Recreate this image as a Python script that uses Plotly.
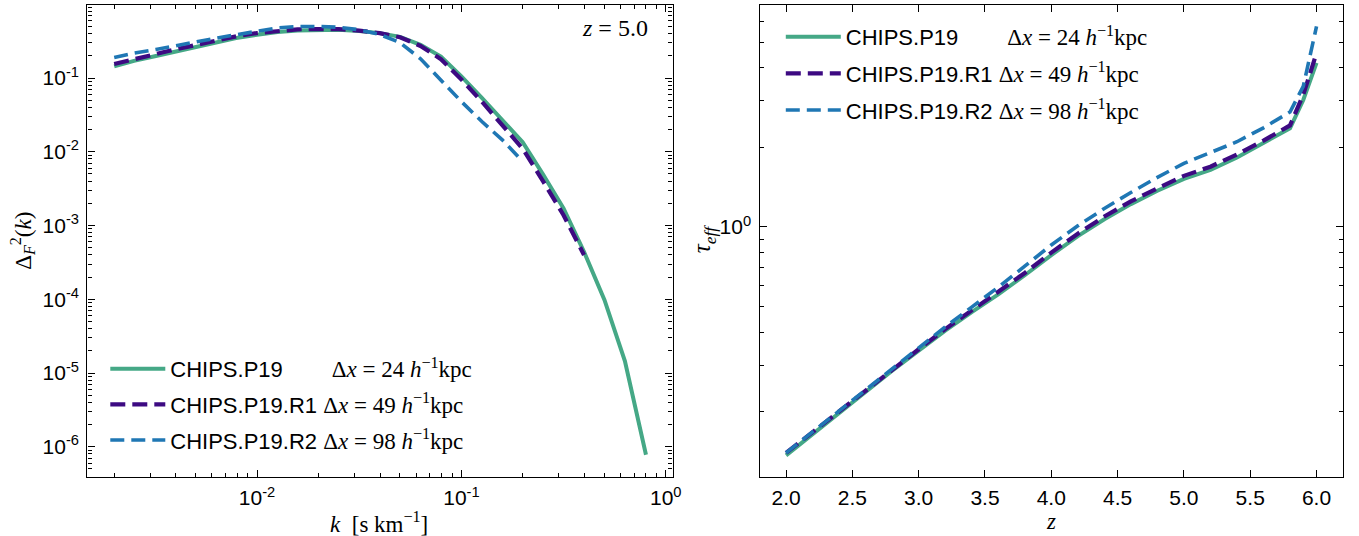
import plotly.graph_objects as go

# ---------------- data: left panel (flux power spectrum at z = 5.0) ----------------
k_vals = [0.0020, 0.0025, 0.0032, 0.0040, 0.0050, 0.0063, 0.0079, 0.0100, 0.0126,
          0.0158, 0.0200, 0.0251, 0.0316, 0.0398, 0.0501, 0.0631, 0.0794, 0.1000,
          0.1259, 0.1585, 0.1995, 0.2512, 0.3162, 0.3981, 0.5012, 0.6310, 0.8000]

pk_p19 = [0.144, 0.171, 0.199, 0.229, 0.265, 0.305, 0.348, 0.385, 0.420, 0.442, 0.452,
          0.452, 0.435, 0.406, 0.361, 0.282, 0.195, 0.105, 0.0537, 0.0275, 0.0135,
          0.0049, 0.0017, 4.4e-4, 9.8e-5, 1.45e-5, 7.8e-7]

pk_r1 = [0.155, 0.182, 0.211, 0.245, 0.282, 0.324, 0.367, 0.407, 0.437, 0.457, 0.462,
         0.460, 0.440, 0.406, 0.357, 0.272, 0.180, 0.0955, 0.0479, 0.0234, 0.0110,
         0.00398, 0.00138, 3.98e-4, None, None, None]

pk_r2 = [0.190, 0.218, 0.244, 0.276, 0.310, 0.347, 0.386, 0.432, 0.479, 0.499, 0.501,
         0.488, 0.452, 0.389, 0.302, 0.182, 0.0933, 0.0479, 0.0257, 0.0145, 0.0074,
         None, None, None, None, None, None]

# ---------------- data: right panel (effective optical depth) ----------------
z_vals = [2.0, 2.2, 2.4, 2.6, 2.8, 3.0, 3.2, 3.4, 3.6, 3.8, 4.0, 4.2, 4.4, 4.6, 4.8,
          5.0, 5.2, 5.4, 5.6, 5.8, 5.9, 6.0]

tau_p19 = [0.137, 0.165, 0.199, 0.239, 0.286, 0.341, 0.406, 0.477, 0.556, 0.657, 0.783,
           0.923, 1.07, 1.22, 1.37, 1.52, 1.645, 1.83, 2.07, 2.36, 3.02, 4.17]

tau_r1 = [0.140, 0.168, 0.202, 0.242, 0.290, 0.345, 0.411, 0.484, 0.566, 0.670, 0.800,
          0.943, 1.095, 1.25, 1.40, 1.56, 1.69, 1.88, 2.12, 2.42, 3.16, 4.54]

tau_r2 = [0.140, 0.168, 0.202, 0.244, 0.293, 0.351, 0.419, 0.498, 0.592, 0.711, 0.855,
          1.01, 1.175, 1.35, 1.54, 1.74, 1.905, 2.10, 2.37, 2.72, 3.40, 5.73]

# ---------------- labels ----------------
run_names = ["CHIPS.P19", "CHIPS.P19.R1", "CHIPS.P19.R2"]
resolutions = ["24", "49", "98"]
pads = [8, 1, 1]
colors = ["#45a886", "#3d0a82", "#1f77b4"]
dashes = ["solid", "15px,7px", "14px,7px"]
widths = [4, 4.2, 3.6]

left_ticks = [1e-6, 1e-5, 1e-4, 1e-3, 1e-2, 1e-1]
left_ticktext = ["10<sup>-6</sup>", "10<sup>-5</sup>", "10<sup>-4</sup>",
                 "10<sup>-3</sup>", "10<sup>-2</sup>", "10<sup>-1</sup>"]
k_ticks = [0.01, 0.1, 1.0]
k_ticktext = ["10<sup>-2</sup>", "10<sup>-1</sup>", "10<sup>0</sup>"]

SANS = "Liberation Sans, Arial, Helvetica, sans-serif"
SERIF = "Liberation Serif, DejaVu Serif, serif"


def legend_name(i):
    return (run_names[i] + "&nbsp;" * pads[i] +
            f'<span style="font-family:{SERIF};font-size:23px">Δ<i>x</i> = {resolutions[i]} '
            f'<i>h</i><sup>−1</sup>kpc</span>')


fig = go.Figure()

series_left = [pk_p19, pk_r1, pk_r2]
series_right = [tau_p19, tau_r1, tau_r2]
for i in range(3):
    fig.add_trace(go.Scatter(
        x=k_vals, y=series_left[i], mode="lines", name=legend_name(i),
        line=dict(color=colors[i], width=widths[i], dash=dashes[i]),
        xaxis="x", yaxis="y", legend="legend", legendgroup=f"l{i}",
        connectgaps=False))
for i in range(3):
    fig.add_trace(go.Scatter(
        x=z_vals, y=series_right[i], mode="lines", name=legend_name(i),
        line=dict(color=colors[i], width=widths[i], dash=dashes[i]),
        xaxis="x2", yaxis="y2", legend="legend2", legendgroup=f"r{i}"))

W, H = 1359, 536


def px_x(p):
    return p / W


def px_y(p):
    return 1 - p / H


def minor_log(decades, mults):
    return [m * 10 ** d for d in decades for m in mults]


axis_common = dict(
    showline=True, linecolor="black", linewidth=1.4, mirror="allticks",
    ticks="inside", ticklen=7, tickwidth=1.2, tickcolor="black",
    showgrid=False, zeroline=False,
    tickfont=dict(family=SANS, size=21, color="black"),
)

fig.update_layout(
    width=W, height=H,
    margin=dict(l=0, r=0, t=0, b=0),
    paper_bgcolor="white", plot_bgcolor="white",
    xaxis=dict(
        domain=[px_x(88), px_x(677)], anchor="y", type="log",
        range=[-2.83, 0.033], tickvals=k_ticks, ticktext=k_ticktext,
        minor=dict(tickvals=minor_log([-3, -2, -1], [2, 3, 4, 5, 6, 7, 8, 9]),
                   ticks="inside", ticklen=4, tickwidth=1, tickcolor="black"),
        ticklabelstandoff=2,
        **axis_common),
    yaxis=dict(
        domain=[px_y(477), px_y(5)], anchor="x", type="log",
        range=[-6.41, -0.01], tickvals=left_ticks, ticktext=left_ticktext,
        minor=dict(tickvals=minor_log([-7, -6, -5, -4, -3, -2, -1], [2, 3, 4, 5, 6, 7, 8, 9]),
                   ticks="inside", ticklen=4, tickwidth=1, tickcolor="black"),
        ticklabelstandoff=3,
        **axis_common),
    xaxis2=dict(
        domain=[px_x(764.6), px_x(1352)], anchor="y2", type="linear",
        range=[1.8, 6.2], tick0=2.0, dtick=0.5, tickformat=".1f",
        ticklabelstandoff=2,
        **axis_common),
    yaxis2=dict(
        domain=[px_y(477), px_y(5)], anchor="x2", type="log",
        range=[-0.945, 0.839], tickvals=[1.0], ticktext=["10<sup>0</sup>"],
        minor=dict(tickvals=[0.2, 0.3, 0.4, 0.5, 0.6, 0.7, 0.8, 0.9, 2, 3, 4, 5, 6],
                   ticks="inside", ticklen=4, tickwidth=1, tickcolor="black"),
        ticklabelstandoff=3,
        **axis_common),
    legend=dict(
        x=px_x(106), y=px_y(348), xanchor="left", yanchor="top",
        bgcolor="rgba(0,0,0,0)", font=dict(family=SANS, size=22, color="black"),
        tracegroupgap=4, traceorder="grouped", itemwidth=55),
    legend2=dict(
        x=px_x(786), y=px_y(16), xanchor="left", yanchor="top",
        bgcolor="rgba(0,0,0,0)", font=dict(family=SANS, size=22, color="black"),
        tracegroupgap=5, traceorder="grouped", itemwidth=55),
    annotations=[
        dict(text="<i>k</i>  [s km<sup>−1</sup>]", x=px_x(382), y=px_y(522),
             xanchor="center", yanchor="middle",
             xref="paper", yref="paper", showarrow=False,
             font=dict(family=SERIF, size=23, color="black")),
        dict(text="<i>z</i>", x=px_x(1058), y=px_y(521),
             xanchor="center", yanchor="middle",
             xref="paper", yref="paper", showarrow=False,
             font=dict(family=SERIF, size=23, color="black")),
        dict(text="Δ<sub><i>F</i></sub><sup>2</sup>(<i>k</i>)", x=px_x(22), y=px_y(241),
             xanchor="center", yanchor="middle",
             xref="paper", yref="paper", showarrow=False, textangle=-90,
             font=dict(family=SERIF, size=23, color="black")),
        dict(text="<i>τ<sub>eff</sub></i>", x=px_x(709), y=px_y(239),
             xanchor="center", yanchor="middle",
             xref="paper", yref="paper", showarrow=False, textangle=-90,
             font=dict(family=SERIF, size=25, color="black")),
        dict(text="<i>z</i> = 5.0", x=px_x(654), y=px_y(28), xanchor="right",
             yanchor="middle",
             xref="paper", yref="paper", showarrow=False,
             font=dict(family=SERIF, size=24, color="black")),
    ],
    showlegend=True,
)

fig.write_html("out.html", config={"displayModeBar": False},
               post_script="document.body.style.margin='0';"
                           "document.body.style.overflow='hidden';"
                           "document.documentElement.style.overflow='hidden';")
